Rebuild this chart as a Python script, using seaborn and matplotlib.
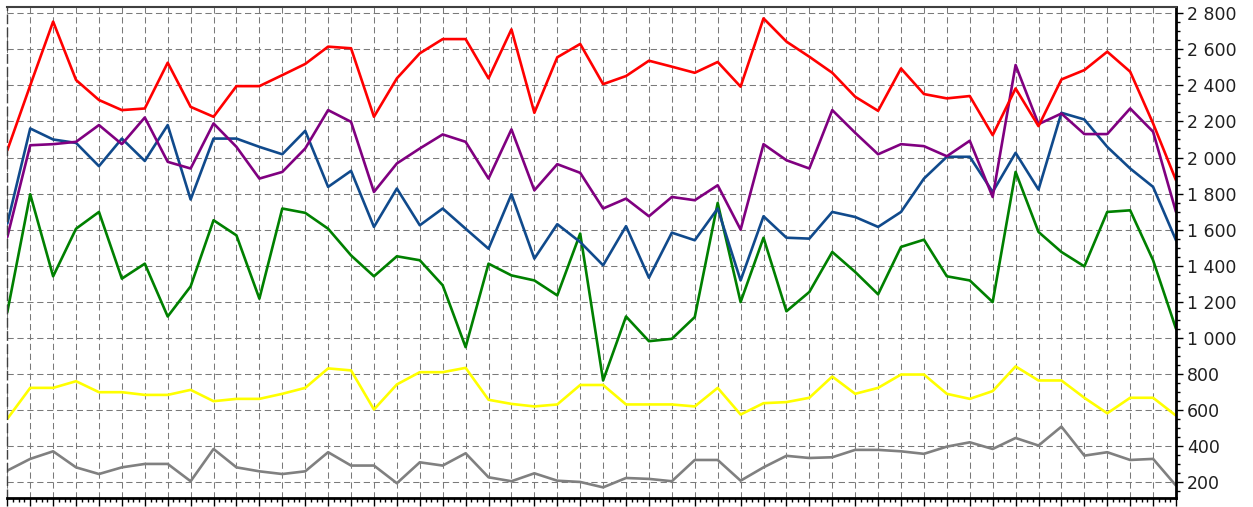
import matplotlib
matplotlib.use('Agg')
import matplotlib.pyplot as plt
from matplotlib.ticker import MultipleLocator, AutoMinorLocator, FuncFormatter
import numpy as np
import pandas as pd
import seaborn as sns

# values, one per column of the grid
red = [2040, 2400, 2754, 2430, 2319, 2263, 2272, 2526, 2281, 2226, 2396, 2396, 2457,
       2519, 2615, 2606, 2226, 2439, 2578, 2657, 2657, 2439, 2711, 2248, 2556, 2630,
       2407, 2452, 2537, 2504, 2470, 2530, 2393, 2772, 2643, 2559, 2470, 2337, 2259,
       2494, 2352, 2328, 2341, 2124, 2383, 2174, 2433, 2485, 2587, 2476, 2189, 1874]
purple = [1559, 2068, 2074, 2087, 2180, 2074, 2222, 1976, 1939, 2189, 2059, 1883, 1920,
          2050, 2263, 2198, 1809, 1967, 2050, 2128, 2087, 1883, 2156, 1818, 1963, 1915,
          1717, 1772, 1674, 1781, 1763, 1846, 1600, 2074, 1985, 1939, 2263, 2137, 2018,
          2074, 2063, 2007, 2093, 1781, 2513, 2185, 2244, 2130, 2130, 2272, 2143, 1698]
blue = [1633, 2161, 2100, 2081, 1952, 2105, 1981, 2180, 1767, 2105, 2105, 2059, 2018,
        2148, 1837, 1926, 1615, 1828, 1624, 1717, 1605, 1494, 1796, 1439, 1630, 1531,
        1402, 1619, 1333, 1583, 1541, 1717, 1318, 1674, 1555, 1550, 1698, 1670, 1615,
        1698, 1883, 2004, 2004, 1809, 2026, 1822, 2248, 2211, 2059, 1939, 1837, 1541]
green = [1142, 1796, 1341, 1605, 1698, 1328, 1411, 1118, 1285, 1652, 1568, 1217, 1717,
         1693, 1605, 1457, 1341, 1452, 1430, 1291, 948, 1411, 1346, 1318, 1235, 1578,
         763, 1118, 981, 994, 1115, 1748, 1198, 1555, 1147, 1254, 1476, 1365, 1241,
         1504, 1544, 1341, 1318, 1198, 1920, 1587, 1476, 1396, 1698, 1707, 1430, 1050]
yellow = [550, 722, 722, 759, 698, 698, 683, 683, 711, 648, 661, 661, 689, 722, 830, 819,
          602, 741, 809, 809, 833, 656, 633, 619, 630, 738, 738, 630, 630, 630, 619, 722,
          574, 637, 643, 667, 785, 689, 722, 796, 796, 689, 661, 704, 841, 763, 763, 667,
          581, 667, 667, 568]
gray = [263, 328, 370, 281, 244, 281, 300, 300, 204, 383, 281, 259, 244, 259, 365, 291,
        291, 193, 309, 291, 359, 226, 204, 248, 207, 200, 170, 222, 217, 204, 322, 322,
        207, 281, 345, 333, 337, 378, 378, 370, 356, 396, 420, 383, 444, 402, 507, 346,
        365, 322, 328, 180]

series = {"gray": gray, "yellow": yellow, "green": green,
          "blue": blue, "purple": purple, "red": red}
colors = {"gray": "#808080", "yellow": "#FFFF00", "green": "#008000",
          "blue": "#104A8C", "purple": "#800080", "red": "#FF0000"}

rows = []
for name, vals in series.items():
    for i, v in enumerate(vals):
        rows.append({"x": i, "value": v, "series": name})
df = pd.DataFrame(rows)

sns.set_style("white")
plt.rcParams['font.family'] = ['DejaVu Sans']

fig = plt.figure(figsize=(12.53, 5.07), dpi=100)
ax = fig.add_axes([7.3 / 1253, 9 / 507, (1176 - 7.3) / 1253, (498 - 7) / 507])

sns.lineplot(data=df, x="x", y="value", hue="series", palette=colors,
             hue_order=list(series.keys()), linewidth=1.9, ax=ax, legend=False)

ax.set_xlim(0, len(red) - 1)
ax.set_ylim(111, 2835)
ax.set_xlabel("")
ax.set_ylabel("")

ax.xaxis.set_major_locator(MultipleLocator(1))
ax.xaxis.set_minor_locator(AutoMinorLocator(4))
ax.yaxis.set_major_locator(MultipleLocator(200))
ax.yaxis.set_minor_locator(AutoMinorLocator(4))
ax.yaxis.tick_right()
ax.yaxis.set_major_formatter(FuncFormatter(lambda v, p: f"{v:,.0f}".replace(",", " ")))
ax.set_xticklabels([])

# thin 1px dashed grid, like the original
ax.grid(True, which="major", color="#7a7a7a", linewidth=0.75,
        linestyle=(0, (6, 3.5)))
ax.set_axisbelow(True)

ax.tick_params(axis="y", which="major", direction="out", length=5, width=1,
               colors="#000000", labelsize=12.5, pad=3, right=True, left=False)
ax.tick_params(axis="y", which="minor", direction="out", length=3, width=1,
               colors="#000000", right=True, left=False)
ax.tick_params(axis="x", which="major", direction="out", length=6, width=1,
               colors="#000000", bottom=True)
ax.tick_params(axis="x", which="minor", direction="out", length=3, width=1,
               colors="#000000", bottom=True)
for lbl in ax.get_yticklabels():
    lbl.set_color("#202020")

ax.spines["bottom"].set_color("#000000")
ax.spines["bottom"].set_linewidth(2)
ax.spines["right"].set_color("#000000")
ax.spines["right"].set_linewidth(2)
ax.spines["top"].set_color("#404040")
ax.spines["top"].set_linewidth(1.5)
ax.spines["left"].set_color("#404040")
ax.spines["left"].set_linewidth(1.0)
ax.spines["left"].set_linestyle((0, (6, 3.5)))

fig.savefig("out.png", dpi=100)
plt.close(fig)
